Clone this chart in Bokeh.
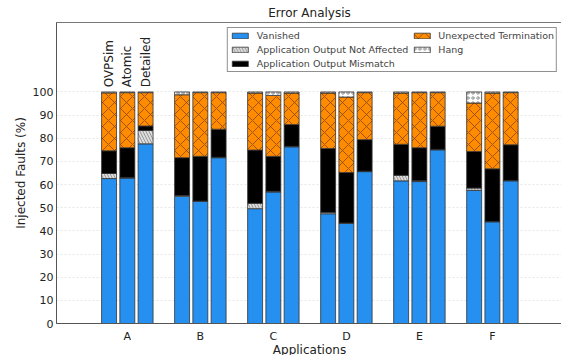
import math
from bokeh.plotting import figure
from bokeh.models import ColumnDataSource, Legend, LegendItem, FixedTicker, Range1d
from bokeh.core.properties import value
from bokeh.embed import file_html
from bokeh.resources import INLINE

apps = ["A", "B", "C", "D", "E", "F"]
simulators = ["OVPSim", "Atomic", "Detailed"]
categories = ["Vanished", "Application Output Not Affected", "Application Output Mismatch",
              "Unexpected Termination", "Hang"]

vanished_ovp = [62.6, 54.9, 49.6, 47.4, 61.6, 57.5]
vanished_atomic = [62.8, 52.7, 56.8, 43.2, 61.3, 43.9]
vanished_detailed = [77.6, 71.6, 76.3, 65.6, 75.0, 61.6]

not_affected_ovp = [2.2, 0.4, 2.3, 0.6, 2.4, 1.0]
not_affected_atomic = [0.3, 0.2, 0.3, 0.2, 0.3, 0.2]
not_affected_detailed = [5.8, 0.2, 0.2, 0.2, 0.2, 0.2]

mismatch_ovp = [9.8, 16.3, 23.0, 27.6, 13.4, 15.8]
mismatch_atomic = [12.8, 19.3, 15.1, 21.8, 14.3, 22.7]
mismatch_detailed = [1.9, 12.1, 9.4, 13.6, 10.0, 15.4]

termination_ovp = [25.0, 27.2, 24.6, 23.9, 22.1, 20.9]
termination_atomic = [23.8, 27.5, 26.3, 32.6, 23.8, 32.7]
termination_detailed = [14.4, 15.8, 13.6, 20.3, 14.5, 22.5]

hang_ovp = [0.4, 1.2, 0.5, 0.5, 0.5, 4.8]
hang_atomic = [0.3, 0.3, 1.5, 2.2, 0.3, 0.5]
hang_detailed = [0.3, 0.3, 0.5, 0.3, 0.3, 0.3]

series = {
    "OVPSim": [vanished_ovp, not_affected_ovp, mismatch_ovp, termination_ovp, hang_ovp],
    "Atomic": [vanished_atomic, not_affected_atomic, mismatch_atomic, termination_atomic, hang_atomic],
    "Detailed": [vanished_detailed, not_affected_detailed, mismatch_detailed, termination_detailed, hang_detailed],
}

FONT = "DejaVu Sans"
fill_colors = ["#2590f0", "#dcdcdc", "#000000", "#ff8c00", "#ffffff"]
hatches = [" ", "\\", " ", "x", "o"]
hatch_colors = ["#000000", "#888888", "#000000", "#7a3e10", "#777777"]
keys = ["vanished", "not_affected", "mismatch", "termination", "hang"]

p = figure(frame_width=506, frame_height=301, output_backend="svg", toolbar_location=None,
           x_range=Range1d(-0.97, 5.96), y_range=Range1d(0, 130),
           min_border_left=56, min_border_right=0, min_border_top=0, min_border_bottom=0,
           title="Error Analysis")
p.title.align = "center"
p.title.text_font = FONT
p.title.text_font_size = "12px"
p.title.text_font_style = "normal"
p.title.standoff = 6
p.title.text_color = "#222222"

offsets = [-0.25, 0.0, 0.25]
legend_renderers = None
for si, sim in enumerate(simulators):
    data = {"x": [i + offsets[si] for i in range(len(apps))]}
    for k, vals in zip(keys, series[sim]):
        data[k] = vals
    src = ColumnDataSource(data)
    rs = p.vbar_stack(keys, x="x", width=0.205, source=src,
                      fill_color=fill_colors, line_color="#333333", line_width=0.8,
                      hatch_pattern=hatches, hatch_color=hatch_colors,
                      hatch_scale=[12, 6, 12, 12, 5], hatch_weight=[1, 0.8, 1, 0.9, 0.8],
                      hatch_alpha=[1, 1, 1, 0.8, 1])
    if legend_renderers is None:
        legend_renderers = rs

# simulator labels over group A
p.text(x=[offsets[0], offsets[1], offsets[2]], y=[102, 102, 102], text=simulators,
       angle=math.pi / 2, text_align="left", text_baseline="middle",
       text_font=value(FONT), text_font_size="12px", text_color="#222222")

legend = Legend(items=[LegendItem(label=c, renderers=[r]) for c, r in zip(categories, legend_renderers)],
                location="top_right", nrows=3, orientation="vertical")
legend.label_text_font = FONT
legend.label_text_font_size = "9.5px"
legend.label_height = 10
legend.glyph_height = 7
legend.glyph_width = 20
legend.spacing = 3
legend.padding = 2
legend.margin = 5
legend.label_standoff = 7
legend.border_line_color = "#222222"
legend.border_line_width = 1
legend.background_fill_alpha = 1
p.add_layout(legend)

p.xaxis.ticker = FixedTicker(ticks=list(range(len(apps))))
p.xaxis.major_label_overrides = {i: a for i, a in enumerate(apps)}
p.yaxis.ticker = FixedTicker(ticks=list(range(0, 101, 10)))
p.xgrid.visible = False
p.ygrid.grid_line_color = "#e6e6e6"
p.ygrid.grid_line_dash = "2 2"

for ax in (p.xaxis, p.yaxis):
    ax.major_label_text_font = FONT
    ax.major_label_text_font_size = "11px"
    ax.major_label_text_color = "#222222"
    ax.axis_label_text_font = FONT
    ax.axis_label_text_font_size = "12px"
    ax.axis_label_text_font_style = "normal"
    ax.axis_label_text_color = "#222222"
    ax.minor_tick_line_color = None
    ax.axis_line_color = "#555555"
    ax.major_tick_in = 0
    ax.major_tick_out = 0
    ax.major_label_standoff = 3
    ax.axis_label_standoff = 2

p.xaxis.axis_label = "Applications"
p.yaxis.axis_label = "Injected Faults (%)"
p.xaxis.major_label_standoff = 6
p.xaxis.axis_label_standoff = -3
p.outline_line_color = "#777777"

open("out.html", "w").write(file_html(p, INLINE))
